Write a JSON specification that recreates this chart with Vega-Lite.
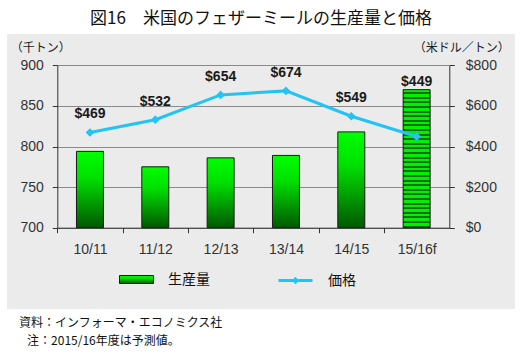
{
  "$schema": "https://vega.github.io/schema/vega-lite/v6.json",
  "background": "white",
  "padding": {"left": 7, "top": 10, "right": 5, "bottom": 5},
  "title": {
    "text": "図16　米国のフェザーミールの生産量と価格",
    "font": "Noto Sans CJK JP",
    "fontSize": 17,
    "fontWeight": "normal",
    "color": "#111111",
    "anchor": "middle",
    "offset": 6
  },
  "vconcat": [
    {
      "width": 508,
      "height": 275,
      "title": {
        "text": ["資料：インフォーマ・エコノミクス社", "\u200b\u00a0\u00a0\u00a0注：2015/16年度は予測値。"],
        "orient": "bottom",
        "anchor": "start",
        "frame": "group",
        "font": "Noto Sans CJK JP",
        "fontSize": 12,
        "fontWeight": "normal",
        "color": "#111111",
        "lineHeight": 18,
        "offset": 9,
        "dx": 12
      },
      "data": {
        "values": [
          {"year": "10/11", "production": 794, "price": 469, "forecast": false},
          {"year": "11/12", "production": 775, "price": 532, "forecast": false},
          {"year": "12/13", "production": 786, "price": 654, "forecast": false},
          {"year": "13/14", "production": 789, "price": 674, "forecast": false},
          {"year": "14/15", "production": 818, "price": 549, "forecast": false},
          {"year": "15/16f", "production": 870, "price": 449, "forecast": true}
        ]
      },
      "layer": [
        {
          "layer": [
            {
              "transform": [{"filter": "!datum.forecast"}],
              "mark": {
                "type": "bar",
                "strokeWidth": 1,
                "fill": {
                  "gradient": "linear", "x1": 0, "y1": 0, "x2": 0, "y2": 1,
                  "stops": [
                    {"offset": 0, "color": "#00ff00"},
                    {"offset": 0.35, "color": "#00e000"},
                    {"offset": 1, "color": "#005800"}
                  ]
                }
              },
              "encoding": {
                "x": {
                  "field": "year", "type": "nominal", "sort": null,
                  "scale": {"range": [50.3, 442.3], "paddingInner": 0.587, "paddingOuter": 0.2935},
                  "axis": {
                    "orient": "bottom", "offset": -81.3, "title": null, "labelAngle": 0,
                    "domainColor": "#333333", "tickColor": "#333333", "tickSize": 5,
                    "bandPosition": 0, "tickOffset": -19.2, "labelOffset": 19.2,
                    "labelPadding": 10, "labelFont": "Liberation Sans", "labelFontSize": 14,
                    "labelColor": "#333333", "grid": false
                  }
                },
                "y": {
                  "field": "production", "type": "quantitative",
                  "scale": {"domain": [700, 900], "range": [193.7, 31.3], "zero": false, "nice": false},
                  "axis": {
                    "orient": "left", "offset": -50.3, "values": [700, 750, 800, 850, 900],
                    "grid": true, "gridColor": "#8a8a8a", "gridWidth": 1,
                    "domainColor": "#333333", "tickColor": "#333333", "tickSize": 5,
                    "labelPadding": 9, "labelFont": "Liberation Sans", "labelFontSize": 14,
                    "labelColor": "#333333",
                    "title": "（千トン）", "titleAngle": 0, "titleX": -17, "titleY": 13,
                    "titleAlign": "center", "titleBaseline": "middle",
                    "titleFont": "Noto Sans CJK JP", "titleFontSize": 12,
                    "titleFontWeight": "normal", "titleColor": "#222222"
                  }
                },
                "y2": {"datum": 700},
                "stroke": {
                  "datum": "生産量",
                  "scale": {"domain": ["生産量"], "range": ["#1a1a1a"]},
                  "legend": {
                    "title": null, "orient": "none", "legendX": 112, "legendY": 228,
                    "padding": 0,
                    "symbolType": "M-1,-0.235H1V0.235H-1Z", "symbolSize": 1156,
                    "symbolFillColor": "#00c000", "symbolStrokeWidth": 1,
                    "labelFont": "Noto Sans CJK JP", "labelFontSize": 14,
                    "labelColor": "#111111", "labelOffset": 14
                  }
                }
              }
            },
            {
              "transform": [{"filter": "datum.forecast"}],
              "mark": {
                "type": "bar",
                "strokeWidth": 1,
                "fill": {
                  "gradient": "linear", "x1": 0, "y1": 0, "x2": 0, "y2": 1,
                  "stops": [
                    {"offset": 0, "color": "#00f000"}, {"offset": 0.0183, "color": "#00f000"}, {"offset": 0.0183, "color": "#007000"}, {"offset": 0.0333, "color": "#007000"},
                    {"offset": 0.0333, "color": "#00f000"}, {"offset": 0.0517, "color": "#00f000"}, {"offset": 0.0517, "color": "#007000"}, {"offset": 0.0667, "color": "#007000"},
                    {"offset": 0.0667, "color": "#00f000"}, {"offset": 0.085, "color": "#00f000"}, {"offset": 0.085, "color": "#007000"}, {"offset": 0.1, "color": "#007000"},
                    {"offset": 0.1, "color": "#00f000"}, {"offset": 0.1183, "color": "#00f000"}, {"offset": 0.1183, "color": "#007000"}, {"offset": 0.1333, "color": "#007000"},
                    {"offset": 0.1333, "color": "#00f000"}, {"offset": 0.1517, "color": "#00f000"}, {"offset": 0.1517, "color": "#007000"}, {"offset": 0.1667, "color": "#007000"},
                    {"offset": 0.1667, "color": "#00f000"}, {"offset": 0.185, "color": "#00f000"}, {"offset": 0.185, "color": "#007000"}, {"offset": 0.2, "color": "#007000"},
                    {"offset": 0.2, "color": "#00f000"}, {"offset": 0.2183, "color": "#00f000"}, {"offset": 0.2183, "color": "#007000"}, {"offset": 0.2333, "color": "#007000"},
                    {"offset": 0.2333, "color": "#00f000"}, {"offset": 0.2517, "color": "#00f000"}, {"offset": 0.2517, "color": "#007000"}, {"offset": 0.2667, "color": "#007000"},
                    {"offset": 0.2667, "color": "#00f000"}, {"offset": 0.285, "color": "#00f000"}, {"offset": 0.285, "color": "#007000"}, {"offset": 0.3, "color": "#007000"},
                    {"offset": 0.3, "color": "#00f000"}, {"offset": 0.3183, "color": "#00f000"}, {"offset": 0.3183, "color": "#007000"}, {"offset": 0.3333, "color": "#007000"},
                    {"offset": 0.3333, "color": "#00f000"}, {"offset": 0.3517, "color": "#00f000"}, {"offset": 0.3517, "color": "#007000"}, {"offset": 0.3667, "color": "#007000"},
                    {"offset": 0.3667, "color": "#00f000"}, {"offset": 0.385, "color": "#00f000"}, {"offset": 0.385, "color": "#007000"}, {"offset": 0.4, "color": "#007000"},
                    {"offset": 0.4, "color": "#00f000"}, {"offset": 0.4183, "color": "#00f000"}, {"offset": 0.4183, "color": "#007000"}, {"offset": 0.4333, "color": "#007000"},
                    {"offset": 0.4333, "color": "#00f000"}, {"offset": 0.4517, "color": "#00f000"}, {"offset": 0.4517, "color": "#007000"}, {"offset": 0.4667, "color": "#007000"},
                    {"offset": 0.4667, "color": "#00f000"}, {"offset": 0.485, "color": "#00f000"}, {"offset": 0.485, "color": "#007000"}, {"offset": 0.5, "color": "#007000"},
                    {"offset": 0.5, "color": "#00f000"}, {"offset": 0.5183, "color": "#00f000"}, {"offset": 0.5183, "color": "#007000"}, {"offset": 0.5333, "color": "#007000"},
                    {"offset": 0.5333, "color": "#00f000"}, {"offset": 0.5517, "color": "#00f000"}, {"offset": 0.5517, "color": "#007000"}, {"offset": 0.5667, "color": "#007000"},
                    {"offset": 0.5667, "color": "#00f000"}, {"offset": 0.585, "color": "#00f000"}, {"offset": 0.585, "color": "#007000"}, {"offset": 0.6, "color": "#007000"},
                    {"offset": 0.6, "color": "#00f000"}, {"offset": 0.6183, "color": "#00f000"}, {"offset": 0.6183, "color": "#007000"}, {"offset": 0.6333, "color": "#007000"},
                    {"offset": 0.6333, "color": "#00f000"}, {"offset": 0.6517, "color": "#00f000"}, {"offset": 0.6517, "color": "#007000"}, {"offset": 0.6667, "color": "#007000"},
                    {"offset": 0.6667, "color": "#00f000"}, {"offset": 0.685, "color": "#00f000"}, {"offset": 0.685, "color": "#007000"}, {"offset": 0.7, "color": "#007000"},
                    {"offset": 0.7, "color": "#00f000"}, {"offset": 0.7183, "color": "#00f000"}, {"offset": 0.7183, "color": "#007000"}, {"offset": 0.7333, "color": "#007000"},
                    {"offset": 0.7333, "color": "#00f000"}, {"offset": 0.7517, "color": "#00f000"}, {"offset": 0.7517, "color": "#007000"}, {"offset": 0.7667, "color": "#007000"},
                    {"offset": 0.7667, "color": "#00f000"}, {"offset": 0.785, "color": "#00f000"}, {"offset": 0.785, "color": "#007000"}, {"offset": 0.8, "color": "#007000"},
                    {"offset": 0.8, "color": "#00f000"}, {"offset": 0.8183, "color": "#00f000"}, {"offset": 0.8183, "color": "#007000"}, {"offset": 0.8333, "color": "#007000"},
                    {"offset": 0.8333, "color": "#00f000"}, {"offset": 0.8517, "color": "#00f000"}, {"offset": 0.8517, "color": "#007000"}, {"offset": 0.8667, "color": "#007000"},
                    {"offset": 0.8667, "color": "#00f000"}, {"offset": 0.885, "color": "#00f000"}, {"offset": 0.885, "color": "#007000"}, {"offset": 0.9, "color": "#007000"},
                    {"offset": 0.9, "color": "#00f000"}, {"offset": 0.9183, "color": "#00f000"}, {"offset": 0.9183, "color": "#007000"}, {"offset": 0.9333, "color": "#007000"},
                    {"offset": 0.9333, "color": "#00f000"}, {"offset": 0.9517, "color": "#00f000"}, {"offset": 0.9517, "color": "#007000"}, {"offset": 0.9667, "color": "#007000"},
                    {"offset": 0.9667, "color": "#00f000"}, {"offset": 0.985, "color": "#00f000"}, {"offset": 0.985, "color": "#007000"}, {"offset": 1, "color": "#007000"}
                  ]
                }
              },
              "encoding": {
                "x": {"field": "year", "type": "nominal", "sort": null},
                "y": {"field": "production", "type": "quantitative"},
                "y2": {"datum": 700},
                "stroke": {"datum": "生産量"}
              }
            },
            {
              "transform": [{"filter": "datum.forecast"}],
              "mark": {
                "type": "text", "font": "Liberation Sans", "fontSize": 14,
                "fontWeight": "bold", "color": "#1a1a1a", "baseline": "middle", "dy": -8
              },
              "encoding": {
                "x": {"field": "year", "type": "nominal", "sort": null},
                "y": {"field": "production", "type": "quantitative"},
                "text": {"field": "price", "type": "quantitative", "format": "$.0f"}
              }
            }
          ]
        },
        {
          "layer": [
            {
              "mark": {"type": "line", "strokeWidth": 3},
              "encoding": {
                "x": {"field": "year", "type": "nominal", "sort": null},
                "y": {
                  "field": "price", "type": "quantitative",
                  "scale": {"domain": [0, 800], "range": [193.7, 31.3], "nice": false},
                  "axis": {
                    "orient": "right", "offset": -65.7, "values": [0, 200, 400, 600, 800],
                    "format": "$.0f", "grid": false,
                    "domainColor": "#333333", "tickColor": "#333333", "tickSize": 5,
                    "labelPadding": 11, "labelFont": "Liberation Sans", "labelFontSize": 14,
                    "labelColor": "#333333",
                    "title": "（米ドル／トン）", "titleAngle": 0, "titleX": 12, "titleY": 13,
                    "titleAlign": "center", "titleBaseline": "middle",
                    "titleFont": "Noto Sans CJK JP", "titleFontSize": 12,
                    "titleFontWeight": "normal", "titleColor": "#222222"
                  }
                },
                "color": {
                  "datum": "価格",
                  "scale": {"domain": ["価格"], "range": ["#22c3f5"]},
                  "legend": {
                    "title": null, "orient": "none", "legendX": 270, "legendY": 228,
                    "padding": 0,
                    "symbolType": "M-1,0H1M0,-0.09L0.09,0L0,0.09L-0.09,0Z", "symbolSize": 1156,
                    "symbolFillColor": "#22c3f5", "symbolStrokeWidth": 3,
                    "labelFont": "Noto Sans CJK JP", "labelFontSize": 14,
                    "labelColor": "#111111", "labelOffset": 14
                  }
                }
              }
            },
            {
              "mark": {"type": "point", "shape": "diamond", "filled": true, "size": 75, "color": "#22c3f5", "opacity": 1},
              "encoding": {
                "x": {"field": "year", "type": "nominal", "sort": null},
                "y": {"field": "price", "type": "quantitative"}
              }
            },
            {
              "transform": [{"filter": "!datum.forecast"}],
              "mark": {
                "type": "text", "font": "Liberation Sans", "fontSize": 14,
                "fontWeight": "bold", "color": "#1a1a1a", "baseline": "middle", "dy": -18
              },
              "encoding": {
                "x": {"field": "year", "type": "nominal", "sort": null},
                "y": {"field": "price", "type": "quantitative"},
                "text": {"field": "price", "type": "quantitative", "format": "$.0f"}
              }
            }
          ]
        }
      ],
      "resolve": {"scale": {"y": "independent"}}
    }
  ],
  "config": {
    "view": {"fill": "#ebebeb", "stroke": null},
    "axis": {"domainWidth": 1, "tickWidth": 1}
  }
}
